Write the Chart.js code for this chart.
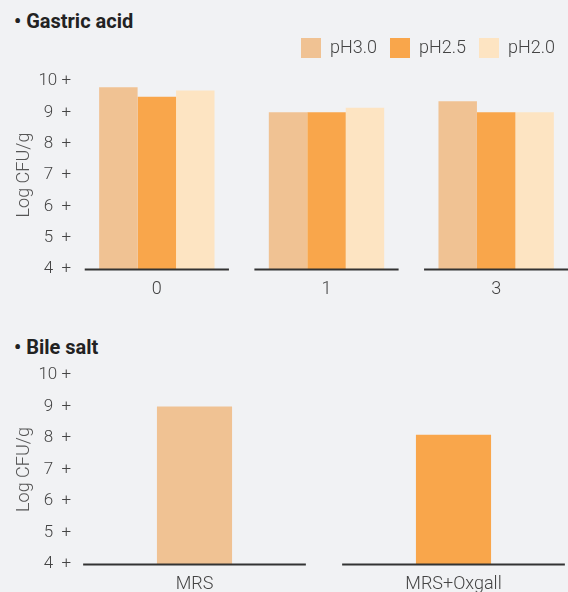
<!DOCTYPE html>
<html>
<head>
<meta charset="utf-8">
<script src="https://cdn.jsdelivr.net/npm/chart.js@4.4.1/dist/chart.umd.min.js"></script>
<style>
  html, body { margin: 0; padding: 0; }
  body { width: 568px; height: 592px; overflow: hidden; background: #f1f2f4; position: relative;
         font-family: Roboto, "Noto Sans", sans-serif; }
  .ttl { position: absolute; left: 14px; font-size: 20px; font-weight: bold; color: #222; line-height: 24px; }
  canvas { position: absolute; left: 0; }
</style>
</head>
<body>
<div class="ttl" style="top:9px">• Gastric acid</div>
<canvas id="acid" width="581" height="274" style="top:25px"></canvas>
<div class="ttl" style="top:335px">• Bile salt</div>
<canvas id="bile" width="583" height="239" style="top:355px"></canvas>
<script>
// gastric acid (hours)
var hours = ['0', '1', '3'];
var ph30 = [9.8, 9.0, 9.35];
var ph25 = [9.5, 9.0, 9.0];
var ph20 = [9.7, 9.15, 9.0];

// bile salt
var media = ['MRS', 'MRS+Oxgall'];
var bileVals = [9.0, 8.1];

var yTicks = [4, 5, 6, 7, 8, 9, 10];

var c30 = '#f0c293', c25 = '#f9a64b', c20 = '#fde4c2';
var txt = '#444';
var font = 'Roboto';
var tickFont = { family: font, size: 17, weight: 300 };

function tickLabel(v) { return v + (v < 10 ? '  +' : ' +'); }

function widestTick() {
  var c = document.createElement('canvas').getContext('2d');
  c.font = '300 17px ' + font;
  return Math.max.apply(null, yTicks.map(function(v) { return c.measureText(tickLabel(v)).width; }));
}

// short dark line under each category
var axisSegments = {
  id: 'axisSegments',
  afterDatasetsDraw: function(chart, args, opts) {
    var ctx = chart.ctx, x = chart.scales.x, y0 = chart.chartArea.bottom;
    var n = x.getLabels().length;
    var half = x.width / n * opts.fraction / 2;
    ctx.save();
    ctx.strokeStyle = '#333';
    ctx.lineWidth = 2;
    for (var i = 0; i < n; i++) {
      var px = x.getPixelForValue(i);
      ctx.beginPath();
      ctx.moveTo(px - half, y0 + 0.5);
      ctx.lineTo(px + half, y0 + 0.5);
      ctx.stroke();
    }
    ctx.restore();
  }
};

// fixed legend height + keep it inside the visible window
var legendTweak = {
  id: 'legendTweak',
  beforeInit: function(chart) {
    if (!chart.legend) return;
    var fit = chart.legend.fit;
    chart.legend.fit = function() {
      fit.bind(chart.legend)();
      this.height = 56;
    };
  },
  afterLayout: function(chart) {
    if (!chart.legend) return;
    chart.legend.left -= 13;
    chart.legend.right -= 13;
  }
};

// w = axis width, end = where the labels stop
function yScale(w, end) {
  var ticks = { color: txt, font: tickFont, callback: tickLabel };
  if (end <= w) {
    ticks.padding = w - end;
  } else {
    // labels reach into the plot area, mirror them so they are not clipped
    ticks.mirror = true;
    ticks.crossAlign = 'far';
    ticks.padding = end - w - widestTick();
  }
  return {
    min: 4, max: 10,
    afterBuildTicks: function(s) { s.ticks = yTicks.map(function(v) { return {value: v}; }); },
    afterFit: function(s) { s.width = w; },
    grid: { display: false, drawTicks: false },
    border: { display: false },
    ticks: ticks,
    title: {
      display: true, text: 'Log CFU/g', color: '#555',
      font: { family: font, size: 18, weight: 300 },
      padding: { top: 14, bottom: 0 }
    }
  };
}

function xScale() {
  return {
    afterFit: function(s) { s.height = 30; },
    grid: { display: false, drawTicks: false },
    border: { display: false },
    ticks: { padding: 10, color: txt, font: { family: font, size: 18, weight: 300 } }
  };
}

new Chart(document.getElementById('acid'), {
  type: 'bar',
  data: {
    labels: hours,
    datasets: [
      { label: 'pH3.0', data: ph30, backgroundColor: c30 },
      { label: 'pH2.5', data: ph25, backgroundColor: c25 },
      { label: 'pH2.0', data: ph20, backgroundColor: c20 }
    ]
  },
  options: {
    responsive: false,
    animation: false,
    categoryPercentage: 0.68,
    barPercentage: 1,
    layout: { padding: 0 },
    plugins: {
      legend: {
        position: 'top', align: 'end',
        labels: { boxWidth: 20, boxHeight: 20, padding: 13, color: txt,
                  font: { family: font, size: 18, weight: 300 } }
      },
      tooltip: { enabled: false },
      axisSegments: { fraction: 0.85 }
    },
    scales: { x: xScale(), y: yScale(72, 71) }
  },
  plugins: [axisSegments, legendTweak]
});

new Chart(document.getElementById('bile'), {
  type: 'bar',
  data: {
    labels: media,
    datasets: [{ label: 'Bile salt', data: bileVals, backgroundColor: [c30, c25] }]
  },
  options: {
    responsive: false,
    animation: false,
    categoryPercentage: 0.29,
    barPercentage: 1,
    layout: { padding: { top: 20 } },
    plugins: {
      legend: { display: false },
      tooltip: { enabled: false },
      axisSegments: { fraction: 0.86 }
    },
    scales: { x: xScale(), y: yScale(65, 71) }
  },
  plugins: [axisSegments]
});
</script>
</body>
</html>
